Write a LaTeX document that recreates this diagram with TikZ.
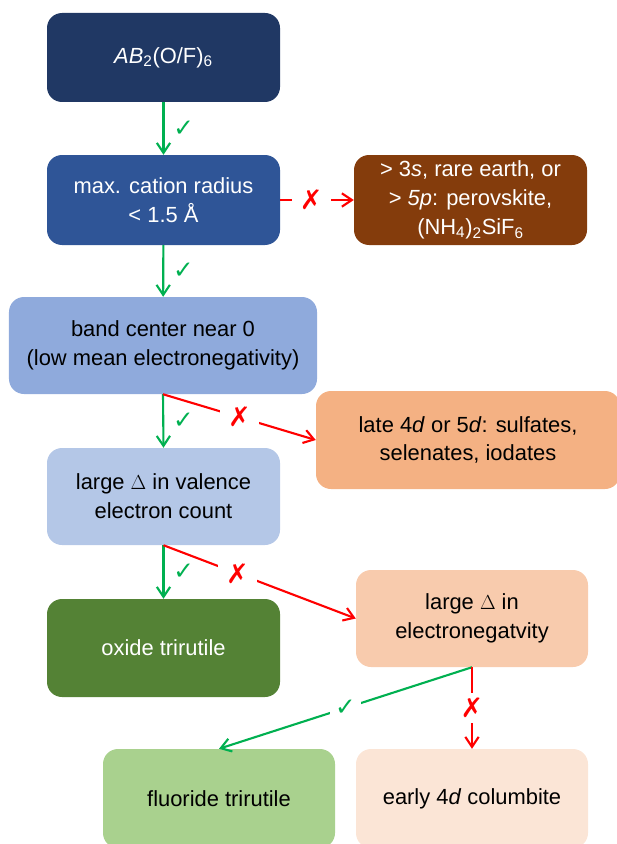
\documentclass[tikz,border=0pt]{standalone}
\usepackage{fontspec}
\setmainfont{Liberation Sans}
\newfontfamily\symfont{DejaVu Sans}
\usetikzlibrary{arrows.meta}
\definecolor{navy}{RGB}{32,56,100}
\definecolor{midblue}{RGB}{47,85,151}
\definecolor{rust}{RGB}{132,60,12}
\definecolor{skyblue}{RGB}{143,170,220}
\definecolor{paleblue}{RGB}{180,199,231}
\definecolor{peach}{RGB}{244,177,131}
\definecolor{lightpeach}{RGB}{248,203,173}
\definecolor{palepeach}{RGB}{251,229,214}
\definecolor{darkgreen}{RGB}{84,130,53}
\definecolor{lightgreen}{RGB}{169,209,142}
\definecolor{okgreen}{RGB}{0,176,80}
\definecolor{nored}{RGB}{255,0,0}

\begin{document}
\begin{tikzpicture}[
    box/.style={rounded corners=0.45cm, minimum width=6.99cm, minimum height=2.7cm,
                align=center, font=\fontsize{18.7}{24.5}\selectfont},
    yes/.style={okgreen, line width=1.8pt, -{Straight Barb[length=0.3cm,width=0.4cm]}},
    no/.style={nored, line width=1.8pt, -{Straight Barb[length=0.3cm,width=0.4cm]}},
    tick/.style={text=okgreen, font=\symfont\fontsize{21}{21}\selectfont},
    cross/.style={text=nored, fill=white, inner xsep=0.25cm, inner ysep=0.15cm,
                  font=\symfont\bfseries\fontsize{23}{23}\selectfont}
]
    \useasboundingbox (0,0) rectangle (18.51,-25.32);

    % Boxes
    \node[box, fill=navy, text=white, minimum height=2.67cm] (formula) at (4.905,-1.725)
        {\textit{AB}\textsubscript{2}(O/F)\textsubscript{6}};
    \node[box, fill=midblue, text=white] (radius) at (4.905,-6.0)
        {max. cation radius\\< 1.5 Å};
    \node[box, fill=rust, text=white] (perov) at (14.115,-6.0)
        {> 3\textit{s}, rare earth, or\\> \textit{5p}: perovskite,\\(NH\textsubscript{4})\textsubscript{2}SiF\textsubscript{6}};
    \node[box, fill=skyblue, minimum width=9.24cm, minimum height=2.91cm] (band) at (4.89,-10.365)
        {band center near 0\\(low mean electronegativity)};
    \node[box, fill=peach, minimum width=9.12cm, minimum height=2.94cm] (sulf) at (14.04,-13.2)
        {late 4\textit{d} or 5\textit{d}: sulfates,\\selenates, iodates};
    \node[box, fill=paleblue, minimum height=2.91cm] (valence) at (4.905,-14.895)
        {large $\Delta$ in valence\\electron count};
    \node[box, fill=darkgreen, text=white, minimum height=2.94cm] (oxide) at (4.905,-19.44)
        {oxide trirutile};
    \node[box, fill=lightpeach, minimum width=6.96cm, minimum height=2.91cm] (eneg) at (14.16,-18.555)
        {large $\Delta$ in\\electronegatvity};
    \node[box, fill=lightgreen, minimum width=6.96cm, minimum height=2.97cm] (fluor) at (6.57,-23.955)
        {fluoride trirutile};
    \node[box, fill=palepeach, minimum width=6.96cm, minimum height=2.97cm] (colum) at (14.16,-23.955)
        {early 4\textit{d} columbite};

    % Yes arrows
    \draw[yes] (formula) -- node[tick, right=0.15cm] {✓} (radius);
    \draw[yes] (radius) -- node[tick, right=0.15cm] {✓} (band);
    \draw[yes] (band.south) -- node[tick, right=0.15cm] {✓} (valence.north);
    \draw[yes] (valence) -- node[tick, right=0.15cm] {✓} (oxide);
    \draw[yes] (eneg.south) -- node[tick, fill=white, inner sep=0.15cm] {✓} (fluor.north);

    % No arrows
    \draw[no] (radius) -- node[cross, pos=0.42] {✗} (perov);
    \draw[no] (band.south) -- node[cross] {✗} (sulf.west);
    \draw[no] (valence.south) -- node[cross, pos=0.385] {✗} (eneg.west);
    \draw[no] (eneg.south) -- node[cross] {✗} (colum.north);
\end{tikzpicture}
\end{document}
